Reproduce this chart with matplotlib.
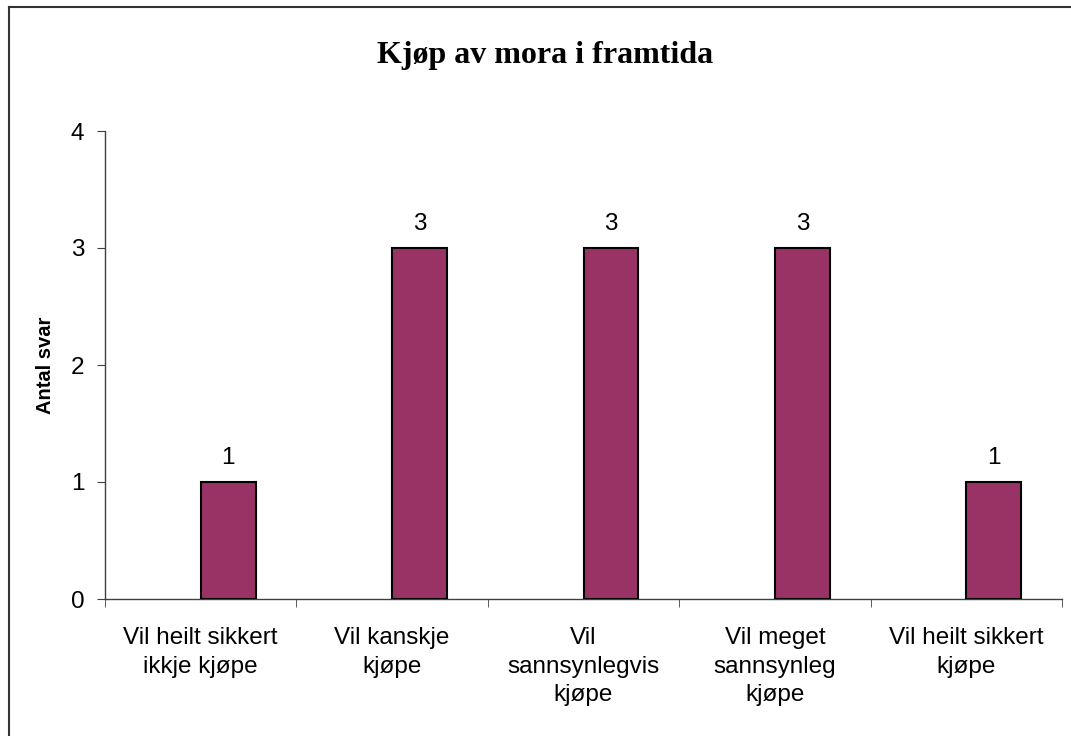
import numpy as np
import matplotlib
matplotlib.use("Agg")
import matplotlib.pyplot as plt
from matplotlib.lines import Line2D

categories = [
    "Vil heilt sikkert\nikkje kjøpe",
    "Vil kanskje\nkjøpe",
    "Vil\nsannsynlegvis\nkjøpe",
    "Vil meget\nsannsynleg\nkjøpe",
    "Vil heilt sikkert\nkjøpe",
]
values = [1, 3, 3, 3, 1]
y_ticks = [0, 1, 2, 3, 4]

W, H = 1071, 736
fig = plt.figure(figsize=(W / 100, H / 100), dpi=100)
ax = fig.add_axes([105 / W, 1 - 599 / H, (1062 - 105) / W, (599 - 131) / H])

x = np.arange(len(categories))
bar_w = 0.287
bars = ax.bar(x, values, width=bar_w, align="edge", color="#993366",
              edgecolor="black", linewidth=1.5, zorder=3)

for rect, v in zip(bars, values):
    ax.annotate(str(v), (rect.get_x() + rect.get_width() / 2, v),
                xytext=(0, 9.5), textcoords="offset points",
                ha="center", va="bottom", fontsize=17.5, family="Liberation Sans")

ax.set_xlim(-0.5, len(categories) - 0.5)
ax.set_ylim(0, 4)
ax.set_yticks(y_ticks)
ax.set_xticks(x)
ax.set_xticklabels(categories, fontsize=17.5, family="Liberation Sans",
                   linespacing=1.37)
ax.set_xticks(np.arange(len(categories) + 1) - 0.5, minor=True)
ax.tick_params(axis="x", which="major", length=0, pad=20.5)
ax.tick_params(axis="x", which="minor", length=6, direction="out",
               color="#404040")
ax.tick_params(axis="y", length=6, direction="out", color="#404040", pad=9,
               labelsize=17.5)
for lbl in ax.get_yticklabels():
    lbl.set_family("Liberation Sans")

for s in ["top", "right"]:
    ax.spines[s].set_visible(False)
for s in ["left", "bottom"]:
    ax.spines[s].set_color("#404040")
    ax.spines[s].set_linewidth(1.0)

ax.set_ylabel("Antal svar", fontsize=14.5, fontweight="bold",
              family="Liberation Sans", labelpad=11)

fig.text(545 / W, 1 - 56 / H, "Kjøp av mora i framtida", ha="center",
         va="center", fontsize=23, fontweight="bold", family="Liberation Serif")

# chart area frame (only left and top edges visible)
fig.add_artist(Line2D([9 / W, 9 / W], [0, 1 - 7 / H], transform=fig.transFigure,
                      color="#333333", lw=1.5))
fig.add_artist(Line2D([9 / W, 1], [1 - 7 / H, 1 - 7 / H], transform=fig.transFigure,
                      color="#333333", lw=1.5))

fig.savefig("out.png", dpi=100)
